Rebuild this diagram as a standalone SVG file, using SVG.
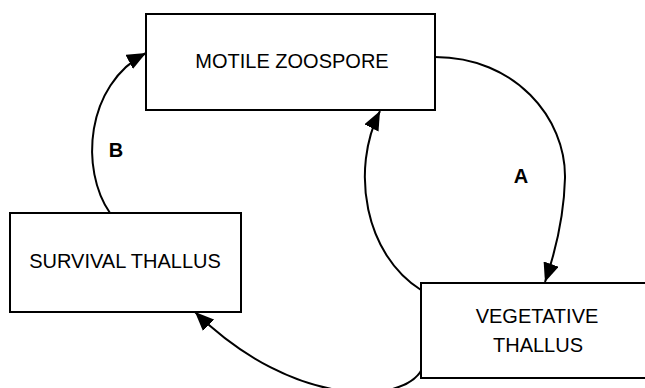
<svg xmlns="http://www.w3.org/2000/svg" width="645" height="388" viewBox="0 0 645 388">
<style>
.box{fill:#fff;stroke:#000;stroke-width:2}
.lbl{font-family:"Liberation Sans",Arial,sans-serif;font-size:20px;fill:#000;text-anchor:middle}
.ltr{font-family:"Liberation Sans",Arial,sans-serif;font-size:20px;font-weight:bold;fill:#000;text-anchor:middle}
.conn{fill:none;stroke:#000;stroke-width:2;marker-end:url(#ah)}
</style>
<defs>
<marker id="ah" markerUnits="userSpaceOnUse" markerWidth="20" markerHeight="16" refX="19" refY="8" orient="auto">
<path d="M0,0 L19,8 L0,16 z" fill="#000"/>
</marker>
</defs>
<rect width="645" height="388" fill="#fff"/>
<g id="connectors">
<path class="conn" d="M110,213 C80,170 85,85 146,53"/>
<path class="conn" d="M435,57 C515,57 566,118 565,178 C564,218 556,250 545,282"/>
<path class="conn" d="M421,290 C365,255 350,170 380,111"/>
<path class="conn" d="M422,369 C405,404 295,410 195,312"/>
</g>
<g id="motile-zoospore">
<rect class="box" x="146" y="14" width="289" height="96"/>
<text class="lbl" x="292" y="68">MOTILE ZOOSPORE</text>
</g>
<g id="survival-thallus">
<rect class="box" x="10" y="213" width="231" height="99"/>
<text class="lbl" x="125" y="268">SURVIVAL THALLUS</text>
</g>
<g id="vegetative-thallus">
<rect class="box" x="421" y="283" width="235" height="95"/>
<text class="lbl" x="537" y="323">VEGETATIVE</text>
<text class="lbl" x="538" y="352">THALLUS</text>
</g>
<g id="labels">
<text class="ltr" x="521" y="183">A</text>
<text class="ltr" x="116" y="157">B</text>
</g>
</svg>
